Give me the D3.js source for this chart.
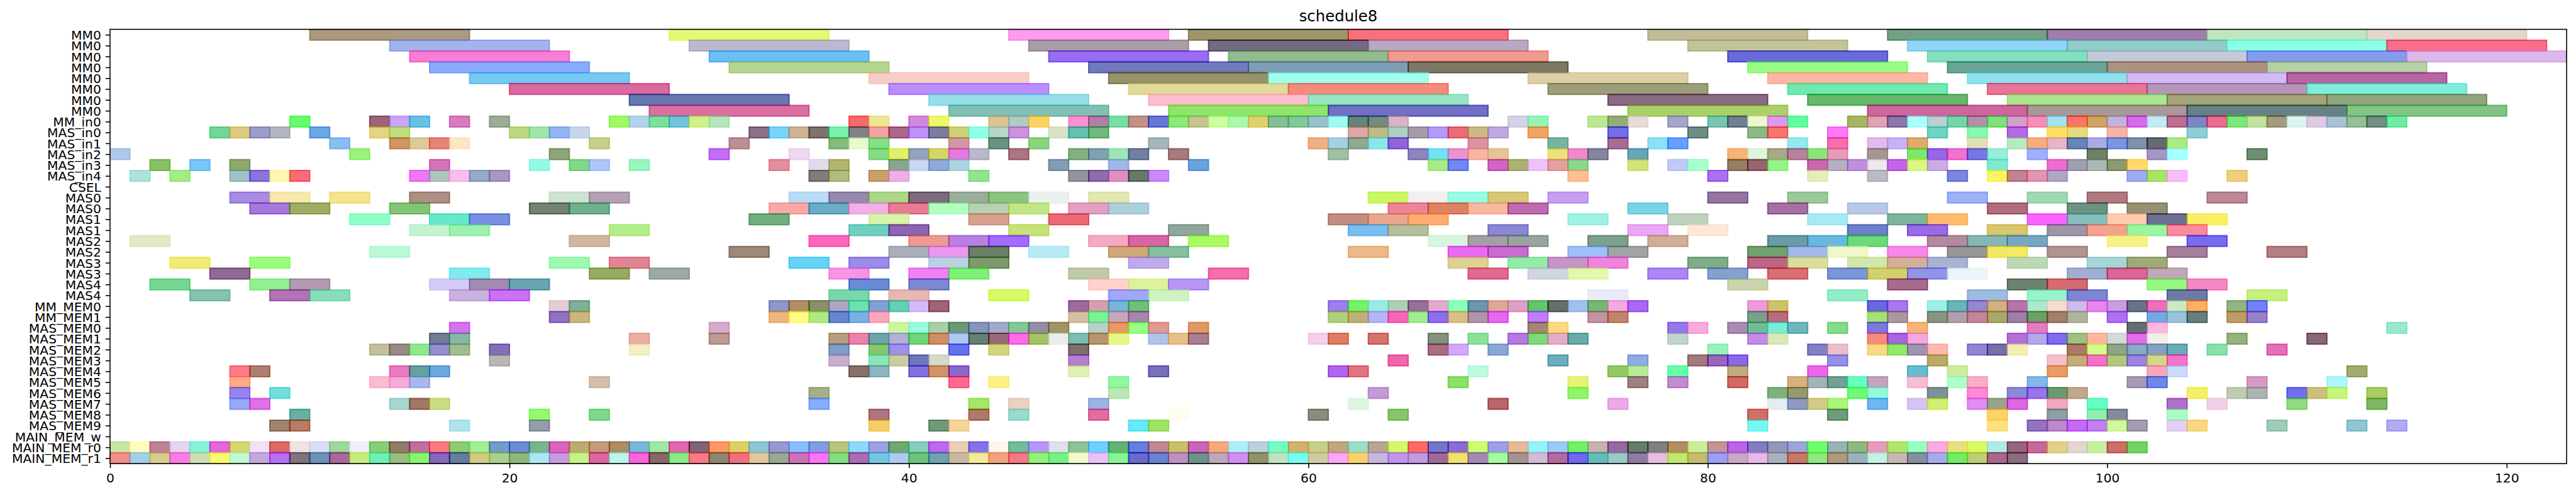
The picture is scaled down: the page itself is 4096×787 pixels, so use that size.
<!DOCTYPE html>
<html><head><meta charset="utf-8">
<script src="https://cdn.jsdelivr.net/npm/d3@7"></script>
<style>html,body{margin:0;padding:0;background:#fff;overflow:hidden}svg{display:block}text{font-family:"DejaVu Sans",sans-serif;fill:#000}</style>
</head><body><svg id="chart" width="4096" height="787"></svg>
<script>
const chartTitle = "schedule8";
const rowLabels = ["MM0","MM0","MM0","MM0","MM0","MM0","MM0","MM0","MM_in0","MAS_in0","MAS_in1","MAS_in2","MAS_in3","MAS_in4","CSEL","MAS0","MAS0","MAS1","MAS1","MAS2","MAS2","MAS3","MAS3","MAS4","MAS4","MM_MEM0","MM_MEM1","MAS_MEM0","MAS_MEM1","MAS_MEM2","MAS_MEM3","MAS_MEM4","MAS_MEM5","MAS_MEM6","MAS_MEM7","MAS_MEM8","MAS_MEM9","MAIN_MEM_w","MAIN_MEM_r0","MAIN_MEM_r1"];
const rowDurations = [8,8,8,8,8,8,8,8,1,1,1,1,1,1,1,2,2,2,2,2,2,2,2,2,2,1,1,1,1,1,1,1,1,1,1,1,1,1,1,1];
const xTicks = [0,20,40,60,80,100,120];
const xMax = 123;

const s00=[10,28,45,54,62,77,89,97,105,113];
const c00=["#AB9A80","#E3FA75","#FF9CF0","#9C9669","#F9707A","#C2BC99","#74A184","#A17DAF","#BEE7C0","#E3D6CB"];
const s01=[14,29,46,55,63,79,90,98,106,114];
const c01=["#A3B3EB","#BBB9D1","#AB9DA6","#736A84","#B8A8C4","#C3C39A","#90D5F5","#92CCC9","#8AFFE3","#F76E88"];
const s02=[15,30,47,56,64,81,91,99,107,115];
const c02=["#F67ED3","#6DBEF5","#986DF0","#93BC8E","#EF9B8F","#6A6ADA","#87DEC0","#C5CADB","#869AF0","#DEB8EA"];
const s03=[16,31,49,57,65,82,92,100,108];
const c03=["#8BABFC","#B5D590","#717ABC","#7F9EB5","#7B7863","#99FC85","#6BA596","#AB937F","#B5D1A3"];
const s04=[18,38,50,58,71,83,93,101,109];
const c04=["#77C8F2","#F7CEC6","#96926A","#A2FFEF","#DDCFA8","#FFB8A5","#90E0EE","#D2BBF3","#B666A3"];
const s05=[20,39,51,59,72,84,94,102,110];
const c05=["#D86B9F","#BA8EFF","#E1DA9B","#F38C7D","#9C9E7B","#72E8B1","#E87595","#B794B9","#80EDDB"];
const s06=[26,41,52,60,75,85,95,103,111];
const c06=["#6778B3","#95DFE8","#FDBDCE","#99E5C3","#8B6A85","#67B86A","#ABE68F","#A3A37A","#90A57E"];
const s07=[27,42,53,61,76,88,96,104,112];
const c07=["#D970A1","#81C1B5","#8EE56B","#7070C5","#ABD06B","#CD5E9E","#A89898","#688284","#82C486"];

const s08=[9,13,14,15,17,19,25,26,27,28,29,30,37,38,40,41,44,45,46,48,49,50,51,52,53,54,55,56,57,58,59,60,61,62,63,64,70,71,74,75,76,78,80,81,82,83,84,87,88,89,90,91,92,93,94,95,96,97,98,99,100,101,102,103,104,105,106,107,108,109,110,111,112,113,114];
const c08=["#68FB72","#9A6678","#CAA6FB","#69C1E8","#D67DBF","#9AAD97","#9FFA62","#B6D3EC","#7BE09E","#72C4D9","#D2F18B","#B5E5BA","#F56A6A","#EEE695","#D587DB","#EBF968","#DCC495","#AFCCC3","#F8D468","#FB90D2","#B17FA6","#7BDDA8","#C09287","#6878D8","#8FE87C","#C4C48E","#CDFFA0","#AFF7B0","#DFD173","#86BE96","#84C79B","#97C2C8","#A3FAF0","#65857A","#758A87","#D9B4C7","#D3D2E8","#97F4B7","#BAE894","#93AD77","#E6DCD8","#A5A5CC","#7AC4B0","#6F8090","#EEF6CC","#DE98EC","#65FBA0","#A6B566","#DCA4B5","#8A78A8","#ABFFF8","#BAD0D2","#76D6A8","#B091A8","#7DE17C","#D2A0C8","#F68FB8","#A3E3F0","#FC7568","#CFA466","#C0B3DA","#D56CE8","#C3EBF7","#BA7090","#8283C4","#EA6D92","#7EE87F","#C3E2A0","#A59C80","#DBF4EF","#DDCBE3","#ADC1D5","#97BE96","#738F84","#72EAA5"];
const s09=[5,6,7,8,10,13,14,20,21,22,23,32,33,34,35,36,37,38,39,40,41,42,43,44,45,47,48,49,62,63,64,65,66,67,68,69,71,75,79,82,83,86,91,93,95,97,98,100,104];
const c09=["#71D698","#DFCB7F","#9B9CCB","#B3B6C0","#6BA6E5","#E4D484","#BEDE7E","#BAD980","#A0E6AB","#92B4F3","#C7D6EC","#8B7188","#78D4FB","#D0B396","#7C726E","#78F2AE","#828088","#F4A3A3","#AD678D","#BD94F5","#7C7C9C","#CFD077","#8FFFE8","#B7D6C6","#CA93DB","#D8E2C8","#66BFB0","#72B880","#DEA6A6","#BCBB85","#ABD1C2","#A69CA8","#B29CFA","#EB6C78","#CBB985","#C0A8E0","#EEA562","#6F6FE8","#6D8C86","#8CB887","#F5756E","#FF7AF8","#6FD4C2","#85F9B0","#B768E8","#FFDD66","#E8DA7E","#F4B5A7","#90CDD2"];
const s10=[11,14,15,16,17,24,31,36,37,38,42,44,46,52,60,61,62,63,64,68,72,75,77,78,84,86,88,89,90,93,95,96,97,98,99,100,101,102,103];
const c10=["#8BBDF0","#CE9560","#DEC89E","#E68478","#FFE6C6","#C8CF8C","#BB9094","#85BB7B","#E5FBCC","#86DE87","#D099A4","#679380","#8CD480","#A5B6BC","#EEB187","#A8D0E0","#8FA995","#8CE6EC","#8F66D6","#D993A7","#78B4A4","#A76D97","#8DE0F5","#66A0FF","#94E9E9","#F66FB0","#E1BBEC","#C6B2F5","#E0AB6E","#E0E0B8","#B9E9BF","#F6AD80","#E6B6C3","#6586B3","#AAAAE6","#7B96E0","#8091A8","#686A70","#ABEA84"];
const s11=[0,12,22,30,34,38,39,40,41,42,43,45,48,49,50,51,53,61,65,66,67,68,69,72,73,74,76,81,82,83,84,85,86,88,90,91,92,93,94,96,99,102,103,107];
const c11=["#B0C8E8","#9BF27E","#8EA57C","#C36FF5","#EDD8EF","#88DB87","#E2EF68","#93A3B8","#D5D568","#E878DC","#B8B8CA","#AA7684","#84AF84","#82A0AE","#A2E3B8","#727F9E","#A67C7E","#A3BFA4","#8F84BE","#74E1F5","#EA94CE","#F5B6A2","#E5C595","#EDE27A","#EE8ACB","#85859C","#6AA3BC","#F5B578","#DDF5DB","#A8A888","#B9809E","#8CE47C","#E89CB9","#A49690","#7EE86C","#9468E6","#F272D0","#7878E0","#98EED8","#A0B0FC","#6F8268","#A596C4","#AAFFFF","#6F8F70"];
const s12=[2,4,6,16,21,23,24,26,33,35,36,39,40,41,42,47,50,54,66,67,69,70,71,72,73,76,78,79,81,82,83,85,86,87,88,89,90,91,94,97,98,99,100,101];
const c12=["#87C166","#78C6F7","#8EA86E","#D673BC","#97F8E6","#80D888","#B0C6FA","#9AF5BE","#E48FA0","#E0DCEC","#B1B672","#86A68E","#C8D8F0","#90A9D6","#ABD5E0","#859DB2","#9FB8E6","#6CA3DA","#ABEA86","#7287F2","#CE66C6","#ACB272","#EEC2F8","#E3A0A0","#8CD690","#D2E37A","#C3CAF8","#A8FFCB","#948066","#96646E","#95F38A","#C868AE","#B6B0C2","#BC90DC","#EDE7EE","#C166E8","#DDF784","#C9ACE4","#7EEAD2","#EE6ED0","#A09FB0","#ABB8B8","#8E9A70","#FFD86E"];
const s13=[1,3,6,7,8,9,15,16,17,18,19,35,36,38,39,43,48,49,50,51,52,73,80,85,88,92,94,95,96,97,101,102,103,106];
const c13=["#ACE3DD","#A4EC88","#A0C2C4","#8A74DE","#FDF7B0","#F76E78","#EF78F7","#AFC4BC","#FBBDEF","#96ABC6","#AE94C2","#847A7A","#B1BC80","#C8A06C","#EBB1E6","#93E38F","#92959E","#8C6EAB","#DC91C4","#63796B","#C98CF8","#FEBF96","#A970F0","#E6EDBB","#BDB9C4","#7D85DE","#F9F564","#C08390","#E394B2","#B3A6C3","#A0AAF2","#A9E36C","#F8BEFA","#EFCE80"];
const s14=[];
const c14=[];

const s15=[6,8,11,15,22,24,34,36,38,40,42,44,46,49,63,65,67,69,72,80,84,92,96,99,105];
const c15=["#A88DE3","#F7E9AF","#F4E48C","#AE8F85","#CFE2D3","#B5A0B3","#BCDCF5","#968AAE","#AAD78A","#7B6B7D","#9AAE9B","#8CC482","#ECF1F0","#E2E6B0","#CAF865","#F4EFF0","#98FCE6","#D8C878","#C6A0F0","#9476A3","#9CCA9C","#9DB1F7","#A3D8B5","#B07A82","#BC8894"];
const s16=[7,9,14,21,23,33,35,37,39,41,43,45,48,50,64,66,68,70,76,83,87,94,98,101];
const c16=["#A578DC","#9EAD64","#84C478","#738272","#70B08C","#F7AAA5","#6BACC6","#F2B0E8","#E67D95","#B2FFC0","#B8CFB0","#C2E687","#E3A0C4","#AED0DC","#EC8398","#DE8266","#F9B9A1","#BD6CAE","#7BD3E6","#A670A3","#B9C8E6","#AE6E7E","#6E9383","#959273"];
const s17=[12,16,18,32,38,43,47,61,63,65,73,78,85,89,91,96,98,100,102,104];
const c17=["#8FFFC8","#66E8CB","#7A90E0","#6FAF80","#D8F3AA","#D6A18D","#EA6B75","#C18F82","#E9A78F","#FFAD75","#9FF2E4","#C0D2BD","#A8EAF4","#7EB59C","#FFBC70","#F962FF","#86BEBA","#FFCCB2","#6B7091","#F9EF60"];
const s18=[15,17,25,37,39,45,53,62,64,69,76,79,87,90,94,97,99,101,103];
const c18=["#C5F2D2","#9DF0B0","#B4EE8C","#72CFBF","#8D66B0","#C6E278","#91A69C","#7ABEF0","#B6BD9D","#8A88D2","#E9A8F5","#FDE7D8","#6F80C8","#986CE8","#D8C66E","#9E95A8","#F2A38E","#9AF5A3","#F98AA0"];
const s19=[1,23,35,40,42,44,49,51,54,66,68,70,74,77,83,85,87,91,93,95,100,104];
const c19=["#E4E9C5","#D2B7A0","#FC68BE","#EC9A92","#B880E0","#A26CFF","#F3AAC4","#D866A4","#AAFA60","#D9F5E0","#A49FA5","#98A59C","#7EA08C","#D0AE98","#6B9BA8","#6AB8DE","#6FD97A","#B48A9F","#86B6B6","#78A6C0","#F6F288","#7A6CF0"];
const s20=[13,31,39,41,43,46,50,52,62,67,69,73,75,82,84,86,89,92,94,97,103,108];
const c20=["#BBF9D6","#9C8878","#AAB0BA","#EA9AEE","#6B7F62","#B7ECF5","#CFA87A","#85BF9E","#ECB887","#E86BF0","#C76DD0","#A0BEF7","#A0A4A4","#729F6E","#A5B9E8","#EEF8C8","#F788E8","#979797","#F5E860","#B09490","#A5809D","#B28080"];
const s21=[3,7,22,25,34,37,41,43,51,67,70,72,74,79,82,84,87,89,91,95,99,101];
const c21=["#F1EA74","#9BFD7C","#9CF9AD","#E08594","#68D2F5","#9A8CE8","#BCD0E4","#7E9A6E","#C0AAEB","#DBD294","#93EBA8","#C794C6","#EE84DC","#80AD88","#BC6484","#D9DF9A","#D2E6AE","#D5AF9E","#A9B2D0","#BDD8B5","#A6D5D6","#9EAA78"];
const s22=[5,17,24,27,36,40,42,48,55,68,71,73,77,80,83,86,88,90,92,98,100,102];
const c22=["#8F6A95","#80ECEE","#96AC66","#9CAAA4","#F994E4","#EE82F5","#7FF078","#BFCAAB","#F46FAC","#E26A8F","#CFD6E0","#E2F8AE","#AC86F6","#86A0CE","#D86F75","#7A97D8","#D2D070","#9294E8","#EAF6F7","#A0AFD0","#DA6498","#C2A8B6"];
const s23=[2,7,9,16,18,20,37,40,49,51,53,81,89,95,97,102,104];
const c23=["#76D792","#92F090","#B39AB3","#D4CCF8","#A28BB0","#69A7B0","#6B8BD6","#7E88D0","#FFD2CC","#DEF29C","#B796F5","#CAD4AC","#A66B8D","#6E8272","#D66B72","#96F882","#F589C2"];
const s24=[4,8,10,17,19,36,39,44,50,52,74,86,93,96,98,103,107];
const c24=["#83C5B0","#B073B3","#88DDBB","#C8B1DF","#CA72F5","#7AD7AC","#E7B7B2","#D7FA60","#A0A6F8","#CFF2C3","#E9ECF8","#92EDC8","#9EBCE0","#97F3CB","#7E85D2","#6E7AA4","#C4F17E"];

const s25=[22,23,33,34,35,36,37,38,39,40,41,48,49,50,51,61,62,63,64,65,66,67,68,69,70,71,72,73,74,75,76,82,83,88,89,91,92,93,94,95,96,97,98,99,100,101,102,103,104,106,107];
const c25=["#E3CCD3","#7FAF96","#9097C9","#B08F68","#88916A","#AFA6C0","#6FE0AE","#839FD2","#66D0B4","#D5BBF6","#9E6475","#9C6A9E","#D69FB0","#78B6D8","#70C077","#9D7FED","#73F26A","#9AECE2","#AFCFB5","#976F98","#E2AACB","#8FFFBB","#6C95AF","#DCA998","#DD9FC3","#63C36F","#676F67","#A1C0EC","#77B873","#F6A8E0","#A86AF3","#EF9ADC","#CDC36A","#6868DF","#AA78EE","#9DEEE6","#68B5B5","#9687CE","#D2B17E","#B874AA","#B0E8CC","#F3DDD3","#CFBBE8","#E587EE","#C99DE0","#697488","#EC6FB8","#C9EAC2","#FFAE66","#90B580","#7380FA"];
const s26=[22,23,33,34,35,36,37,38,48,49,50,51,61,62,63,64,65,66,67,68,69,71,74,75,82,83,88,89,91,92,93,94,95,96,97,98,100,102,103,104,106,107];
const c26=["#8F72C2","#CBB67F","#EDB67C","#FEFA85","#B0E97F","#6087D0","#7BB0E3","#F9A8BE","#D2C0A2","#78F395","#C6A8BE","#A785AD","#AFD07D","#BFB07A","#B7B4F2","#F865BA","#A0EC90","#8E6EED","#D7C088","#AF95A8","#E468F0","#C07DFC","#BF94A3","#BF866B","#78A08A","#B86C80","#A6E078","#AC979E","#8A9580","#B29FAE","#C28895","#A8A86A","#9C80A6","#6F9E62","#A47F6C","#B0B49C","#B070EE","#74A8E2","#9CC2DB","#687F80","#BE9C68","#9780C8"];
const s27=[17,30,39,40,41,42,43,44,45,46,47,49,50,51,52,54,71,72,78,79,81,82,83,84,86,88,90,96,101,102,114];
const c27=["#D274EE","#D6ABCC","#CBF6A0","#9AFCDC","#A8CFA5","#6C9878","#8694BC","#A1ABC8","#83C896","#9390A4","#A09568","#B8CFCA","#E69A60","#96FF84","#E09A90","#DE9A62","#A48678","#FADB82","#9578EA","#F8ACDD","#A88CB2","#70BE96","#7AEDD8","#6EB5BD","#85DA8C","#7D78DF","#F4B576","#E27EBE","#646F70","#FDB8DF","#9BE8CC"];
const s28=[16,17,26,30,36,37,38,39,40,41,42,43,44,45,46,47,48,49,50,52,53,54,60,61,63,66,68,70,71,72,73,78,82,83,88,89,90,95,96,97,98,99,100,101,102,106,110];
const c28=["#747B96","#87B5A8","#EAAEA3","#BC9A92","#B69F7E","#E884AA","#6FA3AC","#B0B2D4","#70D47B","#CF8E68","#AFC9F5","#648074","#9A6878","#FE6CE6","#A7C266","#ECEDEC","#7FBDB2","#B89470","#E6F788","#B0C3EA","#E6BF8C","#A97F93","#F6CDEB","#E07D66","#D47470","#84937C","#8DE09C","#B578E3","#80D87C","#E6ABC6","#6CAAAA","#C0D4D0","#C48BE6","#DAE8B6","#F48C80","#A666E0","#F4A8E2","#B570D8","#B5A8EA","#7E6CEE","#9DC180","#FFB5A0","#D0DCDA","#E070E8","#F2EFE8","#96B27C","#8A6778"];
const s29=[13,14,15,16,17,19,26,36,38,39,42,44,48,66,67,69,80,85,86,88,89,90,91,93,94,95,98,99,100,101,102,103,105,108];
const c29=["#C1BF9E","#9A8A85","#90E890","#9490CD","#A0BC90","#8570B8","#F3EEC4","#7F9DC6","#86C870","#9F90EC","#6871EC","#D2D580","#7F706C","#A96E82","#D3A8F6","#8AA8D5","#98F2BE","#8580C4","#ECC0C8","#F8D88A","#94E86C","#9F95B2","#FFB8AE","#9484D2","#7A70A8","#F5EEB4","#AE7860","#D5FC88","#8FA388","#8AABC2","#87A0C0","#6CAAB5","#8AE0AA","#E46EB8"];
const s30=[19,36,38,39,40,41,48,64,72,76,79,80,81,86,91,97,98,99,100,101,102,103];
const c30=["#B8B6B6","#C8AFD0","#8AE6BA","#CBCCA4","#7076BC","#D3DACA","#B580D0","#F065AE","#70ACBE","#8FAAE5","#A47A7E","#9766BD","#8C68E8","#9490E8","#BBAA6C","#F2C0CC","#C4AD7C","#F272C8","#B1C884","#9C84E0","#D4D68C","#F674CC"];
const s31=[6,7,14,15,16,37,38,40,41,42,48,52,61,62,68,75,76,78,81,85,90,92,97,102,103,112];
const c31=["#FC7B8A","#AF7F70","#E87BC1","#64A0A0","#6DA8E0","#85736A","#8CB6BF","#8670E0","#D09468","#8D68CC","#DEF2B2","#7870BC","#B066EE","#E27582","#BFF9DF","#96C866","#BAEB9C","#66FFA8","#BDAB82","#EC66E8","#68BCD0","#CEEB9E","#E89C68","#F9A5BC","#C9DAFA","#A3AC70"];
const s32=[6,13,14,15,24,42,44,50,67,73,76,78,81,84,85,86,87,88,90,92,93,96,101,102,107,111];
const c32=["#FFAA85","#F9BDCF","#F4ADDA","#A8B8EA","#D5BFAC","#FF6B90","#FBF088","#8FF9A0","#8CE060","#E8F27A","#9C8382","#C38CD0","#D26A66","#D8B080","#A3B4B8","#74A095","#66FFC0","#C4A3BC","#F5BED2","#AEFFCC","#F9AEC8","#84B8E8","#A69AB4","#6E88E8","#D89AC4","#ACF6FC"];
const s33=[6,8,35,50,63,73,83,84,87,88,91,93,95,96,97,98,104,106,107,109,110,111,113];
const c33=["#9884F0","#72DEDB","#A3B088","#BBE6B5","#C59AD8","#90F56C","#81B080","#979A70","#70F878","#96F8D8","#7D9298","#FC8AD4","#8A8AD8","#9A74E8","#6A9A6E","#C0A88C","#F2F068","#BFCBB5","#AEB4B2","#7070EE","#CCC080","#C8F57C","#A8CC66"];
const s34=[6,7,14,15,16,35,43,45,49,62,69,75,83,84,85,86,88,90,91,93,94,95,97,99,103,105,109,113];
const c34=["#98A8F5","#DF70E6","#A8D5D0","#A07860","#CBDD84","#85ADFC","#A2E85E","#E8D2C0","#9AB4E2","#DDF6E0","#B8606E","#EDA8E8","#E6EDF0","#8C9AC4","#D2CA8A","#ACF57C","#70B5F2","#D8C3F5","#CFF070","#E28CF0","#98A58C","#E066DC","#F0A8C0","#66FDC4","#AE70C8","#F0D0E6","#90DC80","#80B860"];
const s35=[9,21,24,38,43,45,49,53,60,64,82,86,94,97,99,100,103];
const c35=["#68B0A4","#95F871","#7CD98C","#AE7580","#AE7C66","#9BD9D2","#E26E9E","#FEFDEE","#8B8D7C","#87C56C","#CF7068","#6F9C7A","#FFD264","#8E9EA6","#8EF0AE","#848A9A","#AAFCC0"];
const s36=[8,9,17,21,38,41,42,51,52,82,94,96,97,98,99,100,101,103,104,108,112,114];
const c36=["#9E8570","#B67C66","#B0E3EC","#959EA8","#F3CF6A","#70997C","#F6D39A","#68E8F8","#A0E266","#7AF6EE","#FCE284","#9474C2","#BE88CA","#C36AF5","#C080F0","#D2F89C","#A69CB0","#E2D0F5","#F8D882","#A0CBB5","#90C6D0","#B0ABF2"];
const s37=[];
const c37=[];
const s38=[0,1,2,3,4,5,6,7,8,9,10,11,12,13,14,15,16,17,18,19,20,21,22,23,24,25,26,27,28,29,30,31,32,33,34,35,36,37,38,39,40,41,42,43,44,45,46,47,48,49,50,51,52,53,54,55,56,57,58,59,60,61,62,63,64,65,66,67,68,69,70,71,72,73,74,75,76,77,78,79,80,81,82,83,84,85,86,87,88,89,90,91,92,93,94,95,96,97,98,99,100,101];
const c38=["#C8E6A5","#FFFBC0","#BF8397","#E3D6EE","#84F3D8","#E264DC","#D6D66C","#F0E2F5","#DC6A66","#EEE4E6","#DADFF6","#9FD89B","#F0EEF8","#88CE76","#947C6C","#C070A0","#FB7A80","#8CCC78","#A0EE95","#739CC6","#6E8AD2","#79B58E","#D964BC","#C0AA74","#C49A7A","#AD8C66","#78B8D8","#9CE8A4","#E268B0","#7D6672","#FF9868","#DDCF66","#8CC6D6","#9C96CE","#88BEFA","#839CE0","#B8C47E","#90D8F8","#9CA2E2","#70A870","#88CEBC","#BE68F0","#E8CFB5","#8672E8","#FEF6EA","#72BC9C","#B798F8","#DFE0EC","#8CC396","#6FCFFF","#63B276","#647FDC","#C08890","#C8C06A","#C862BC","#F6A87A","#B0EEF6","#BBD0DA","#72FCC2","#D4B26E","#C8CF88","#BFA780","#9CDDCC","#B8A690","#D4F86C","#FF6B60","#7676C6","#8A6CD4","#CCFE70","#9CA0E8","#E6B99A","#96F2F5","#A0C8F5","#72F060","#C6B2AE","#946AA0","#677D62","#808080","#B48C60","#CBEE9C","#C49496","#B966E8","#847CC0","#9298B8","#9AA6D8","#70FF6C","#99B2B6","#8FB880","#E69CB8","#B0E66C","#97FFC0","#FCAADF","#E8E080","#D8FA60","#B0EAE6","#96657A","#C66B98","#E3D188","#E2D5D2","#C9EFA4","#CC6E6C","#72D468"];
const s39=[0,1,2,3,4,5,6,7,8,9,10,11,12,13,14,15,16,17,18,19,20,21,22,23,24,25,26,27,28,29,30,31,32,33,34,35,36,37,38,39,40,41,42,43,44,45,46,47,48,49,50,51,52,53,54,55,56,57,58,59,60,61,62,63,64,65,66,67,68,69,70,71,72,73,74,75,76,77,78,79,80,81,82,83,84,85,86,87,88,89,90,91,92,93,94,95];
const c39=["#F48C8A","#A2D0E8","#D5CE8E","#F87EE6","#CCDFB4","#F8FA70","#C2F8D3","#C4A8DC","#B66FF8","#80737E","#6C94B6","#A86A9A","#C4EE7C","#74EEB8","#98BE84","#88F473","#8668BC","#667CA0","#CFCA84","#AED08E","#90B67C","#AEE7F4","#C89AE0","#C6F288","#DC62A2","#BAF6EA","#FB66D8","#8A6868","#8EE88A","#F67A88","#8E8770","#F07080","#E2C6A0","#98A894","#CC72B4","#F975F8","#82DC84","#AA6CB2","#74C6E0","#AECBEE","#6CC47E","#70A2B0","#C8B9A2","#F0EA9C","#F2A27C","#F07A88","#95F178","#78EE88","#F4FACA","#E8C2F8","#8AF595","#6A6ACC","#6A82D0","#BE90C0","#70908A","#BBA8BA","#D28EEE","#90926A","#C0E2C0","#78FEEE","#D0CAA4","#F8A8F4","#F8D270","#C8B8E0","#C095EE","#BE9CDF","#9D6A9C","#EFE070","#A688B8","#A6FAA0","#A29490","#D0BDD4","#B36AA0","#7068EE","#66BCB8","#9CC8C8","#8D7CA0","#E8BEDF","#C2E870","#C6BC70","#9A9FF0","#C9A8C4","#E8B8E6","#ACB0BE","#C87860","#90E884","#AE9880","#9BB2B8","#C6F0E6","#C7B8B0","#85909E","#AAAAE8","#70EC62","#BCCF74","#A8648A","#886E80"];

const rowStarts=[s00,s01,s02,s03,s04,s05,s06,s07,s08,s09,s10,s11,s12,s13,s14,s15,s16,s17,s18,s19,s20,s21,s22,s23,s24,s25,s26,s27,s28,s29,s30,s31,s32,s33,s34,s35,s36,s37,s38,s39];
const rowColors=[c00,c01,c02,c03,c04,c05,c06,c07,c08,c09,c10,c11,c12,c13,c14,c15,c16,c17,c18,c19,c20,c21,c22,c23,c24,c25,c26,c27,c28,c29,c30,c31,c32,c33,c34,c35,c36,c37,c38,c39];

const W=4096,H=787,k=4096/5485;
const m={left:234.3*k,right:5465*k,top:62.4*k,bottom:987*k};
const alpha=0.6;
const svg=d3.select("#chart");
const x=d3.scaleLinear().domain([0,xMax]).range([m.left,m.right]);
const y=d3.scaleBand().domain(d3.range(rowLabels.length)).range([m.top,m.bottom]).paddingInner(0).paddingOuter(0);

// Colours were read as they appear over white: recover the translucent base colour.
const unblend=hex=>{const c=d3.rgb(hex);const f=v=>Math.max(0,Math.min(255,Math.round((v-255*(1-alpha))/alpha)));return d3.rgb(f(c.r),f(c.g),f(c.b)).formatHex();};

const bars=rowStarts.flatMap((st,r)=>st.map((s,i)=>({row:r,start:s,dur:rowDurations[r],color:unblend(rowColors[r][i]||"#999999")})));

svg.append("clipPath").attr("id","plot").append("rect")
  .attr("x",m.left).attr("y",m.top).attr("width",m.right-m.left).attr("height",m.bottom-m.top);
svg.append("g").attr("clip-path","url(#plot)").selectAll("rect").data(bars).join("rect")
  .attr("x",d=>x(d.start)).attr("y",d=>y(d.row))
  .attr("width",d=>x(d.start+d.dur)-x(d.start)).attr("height",y.bandwidth())
  .attr("fill",d=>d.color).attr("fill-opacity",alpha)
  .attr("stroke",d=>d.color).attr("stroke-opacity",alpha).attr("stroke-width",2);

const tickLen=7.1,tickW=1.6,fs=20.3;
const xAxis=svg.append("g").attr("transform",`translate(0,${m.bottom})`)
  .call(d3.axisBottom(x).tickValues(xTicks).tickFormat(d3.format("d")).tickSize(tickLen).tickPadding(8.3));
const yAxis=svg.append("g").attr("transform",`translate(${m.left},0)`)
  .call(d3.axisLeft(d3.scalePoint().domain(d3.range(rowLabels.length)).range([y(0)+y.bandwidth()/2,y(39)+y.bandwidth()/2]))
    .tickFormat(i=>rowLabels[i]).tickSize(tickLen).tickPadding(7));
[xAxis,yAxis].forEach(g=>{g.select(".domain").remove();
  g.selectAll("line").attr("stroke","#000").attr("stroke-width",tickW);
  g.selectAll("text").style("font-family",'"DejaVu Sans"').style("font-size",fs+"px").attr("fill","#000");});
yAxis.selectAll("text").attr("dy","0.36em");

svg.append("rect").attr("x",m.left).attr("y",m.top).attr("width",m.right-m.left).attr("height",m.bottom-m.top)
  .attr("fill","none").attr("stroke","#000").attr("stroke-width",tickW);
svg.append("text").attr("x",(m.left+m.right)/2).attr("y",34.1).attr("text-anchor","middle")
  .style("font-size",(fs*1.2)+"px").text(chartTitle);
</script></body></html>
